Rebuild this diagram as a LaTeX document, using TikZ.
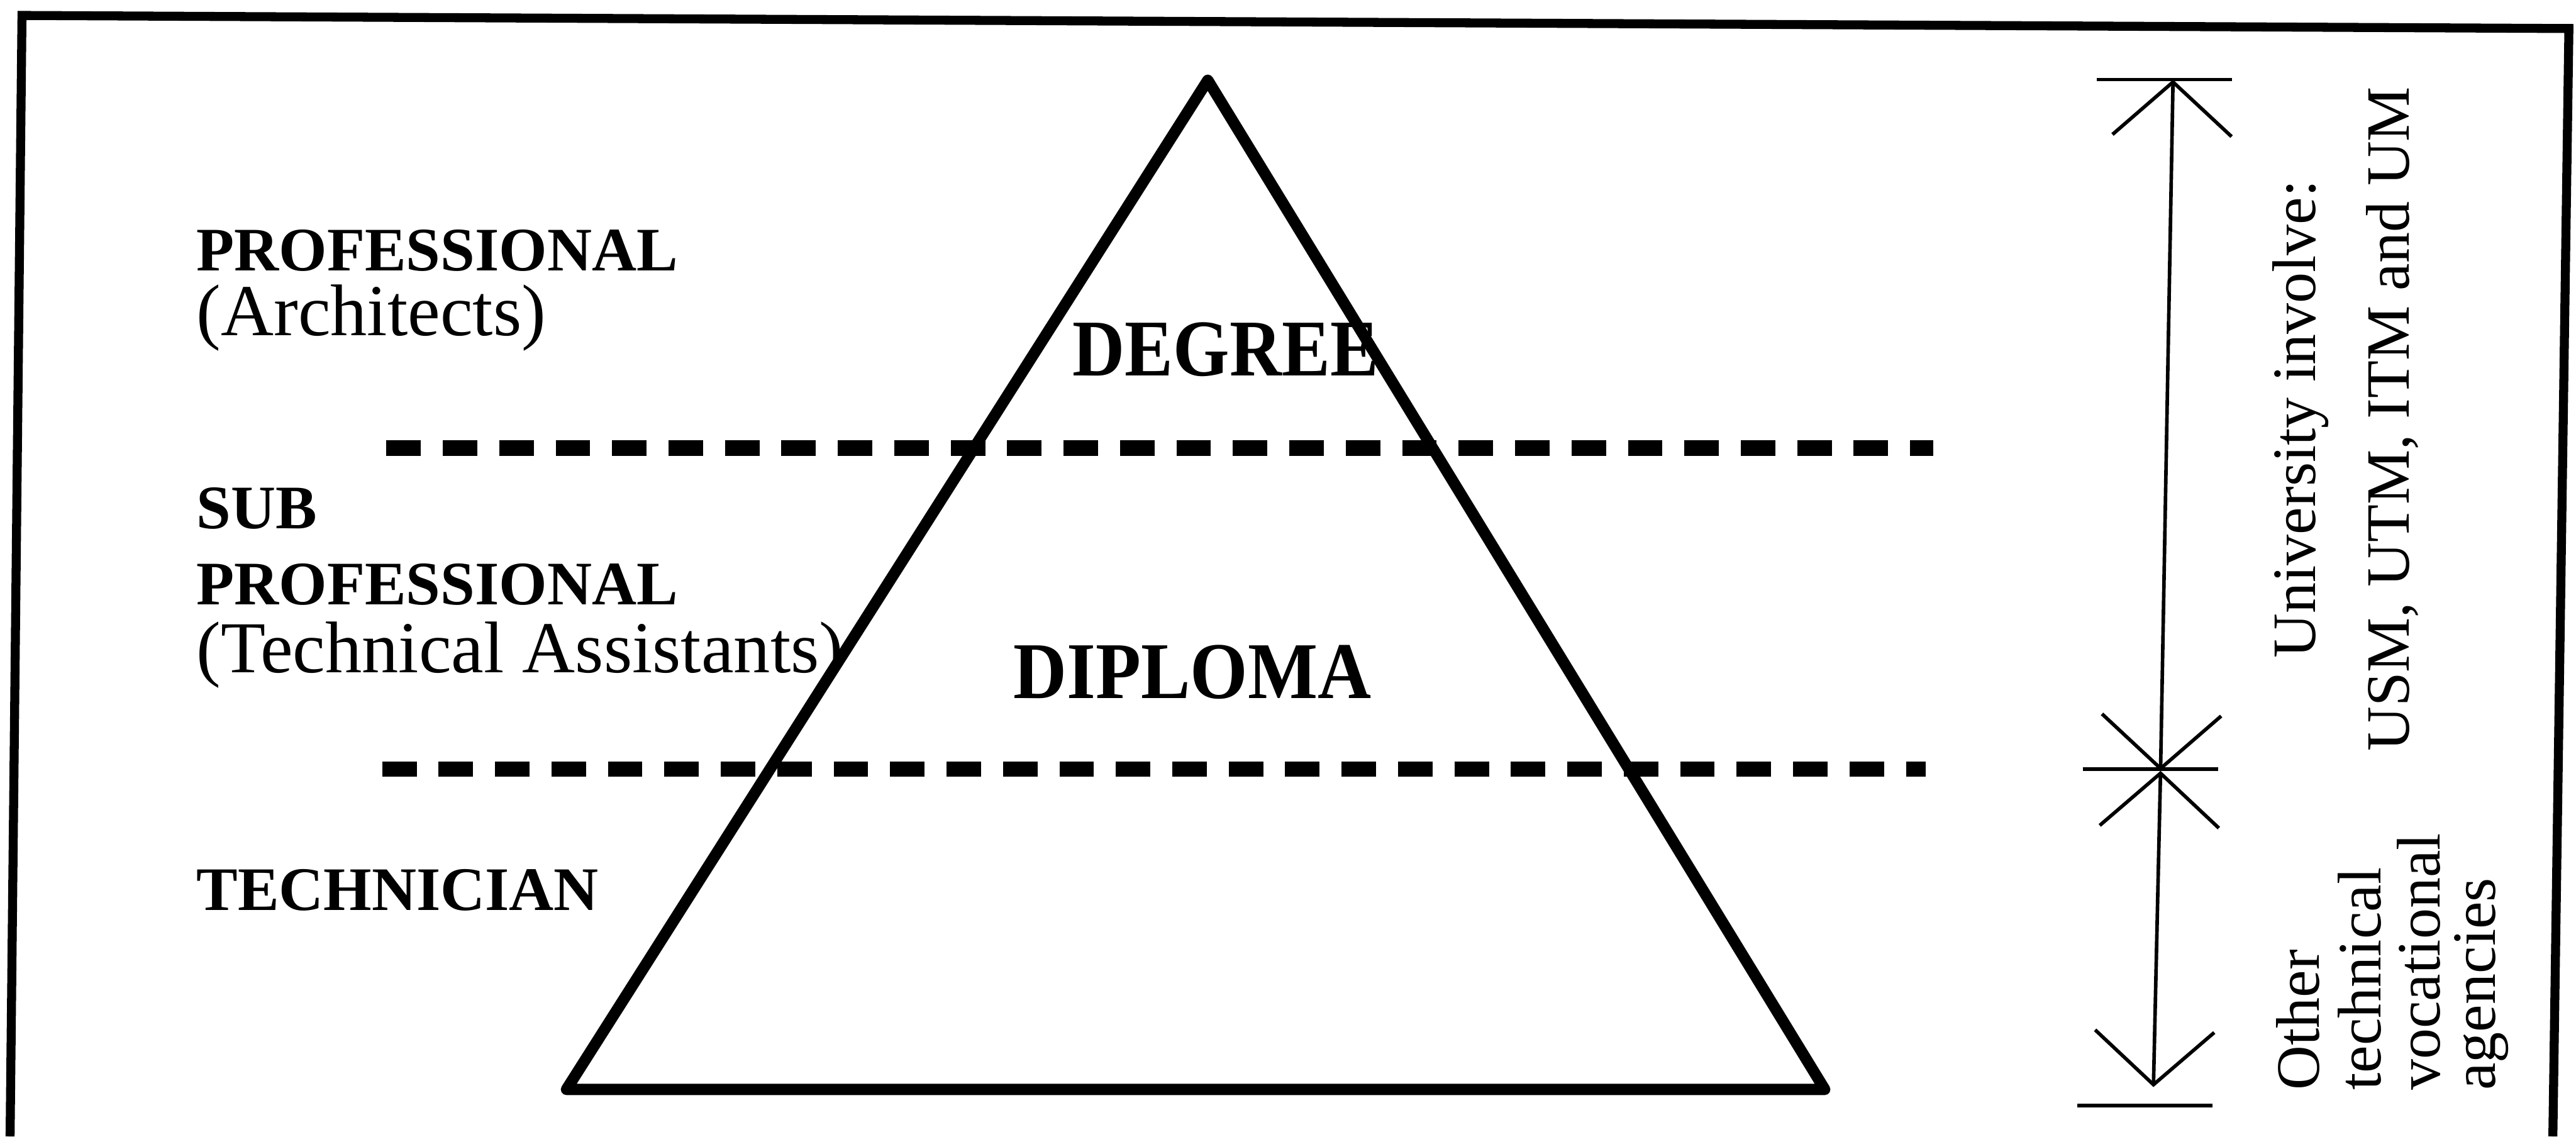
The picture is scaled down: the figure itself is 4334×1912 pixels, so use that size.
\documentclass[tikz,border=0pt]{standalone}
\usepackage{fontspec}
\setmainfont{Liberation Serif}
\usepackage{graphicx}
\usetikzlibrary{arrows.meta}
\begin{document}
\begin{tikzpicture}[x=0.01cm,y=-0.01cm,
  frame/.style={line width=4.3pt, line join=miter},
  pyr/.style={line width=5.4pt, line join=round},
  level/.style={line width=7.4pt, dash pattern=on 16.5pt off 10.5pt},
  dim/.style={line width=1.7pt},
  barb/.tip={Straight Barb[length=25.6pt,width=57pt]},
  dimarrow/.style={dim, barb-barb},
  lab/.style={font=\fontsize{35}{36}\selectfont, inner sep=0pt, anchor=base west},
  blab/.style={font=\fontsize{29.6}{30}\selectfont\bfseries, inner sep=0pt, anchor=base west},
  big/.style={font=\fontsize{38.5}{40}\selectfont\bfseries, inner sep=0pt, anchor=base},
  vlab/.style={font=\fontsize{29.5}{30}\selectfont, inner sep=0pt, rotate=90},
]
\useasboundingbox (0,0) rectangle (4334,1912);

% frame (open at the bottom)
\coordinate (fbl) at (17,1912);
\coordinate (ftl) at (37,26);
\coordinate (ftr) at (4322,48);
\coordinate (fbr) at (4295,1912);
\draw[frame] (fbl) -- (ftl) -- (ftr) -- (fbr);

% pyramid
\coordinate (apex) at (2032,135);
\coordinate (bl) at (953,1833);
\coordinate (br) at (3070,1833);
\draw[pyr] (apex) -- (br) -- (bl) -- cycle;

% level lines
\coordinate (d1l) at (650,754);
\coordinate (d1r) at (3253,754);
\coordinate (d2l) at (643,1294);
\coordinate (d2r) at (3240,1294);
\draw[level] (d1l) -- (d1r);
\draw[level] (d2l) -- (d2r);

% left labels
\node[blab] (prof1) at (330,455) {PROFESSIONAL};
\node[lab]  (arch)  at (330,565) {(Architects)};
\node[blab] (sub)   at (330,889) {SUB};
\node[blab] (prof2) at (330,1017) {PROFESSIONAL};
\node[lab]  (techas) at (330,1132) {(Technical Assistants)};
\node[blab] (techn) at (330,1532) {TECHNICIAN};

% pyramid labels
\node[big] (degree)  at (2062,632)  {\scalebox{0.9}[1]{DEGREE}};
\node[big] (diploma) at (2006,1175) {\scalebox{0.92}[1]{DIPLOMA}};

% dimension arrows
\coordinate (atop) at (3656,134);
\coordinate (amid) at (3635,1297);
\coordinate (abot) at (3623,1829);
\draw[dimarrow] (atop) -- (amid);
\draw[dimarrow] (amid) -- (abot);
\coordinate (b1l) at (3528,134);  \coordinate (b1r) at (3755,134);
\coordinate (b2l) at (3504,1294); \coordinate (b2r) at (3732,1294);
\coordinate (b3l) at (3495,1860); \coordinate (b3r) at (3722,1860);
\draw[dim] (b1l) -- (b1r);
\draw[dim] (b2l) -- (b2r);
\draw[dim] (b3l) -- (b3r);

% right labels
\node[vlab, anchor=base] (univ1) at (3895,705) {University involve:};
\node[vlab, anchor=base] (univ2) at (4053,705) {USM, UTM, ITM and UM};
\node[vlab, anchor=base west] (oth1) at (3902,1835) {Other};
\node[vlab, anchor=base west] (oth2) at (4005,1835) {technical};
\node[vlab, anchor=base west] (oth3) at (4105,1835) {vocational};
\node[vlab, anchor=base west] (oth4) at (4198,1835) {agencies};
\end{tikzpicture}
\end{document}
